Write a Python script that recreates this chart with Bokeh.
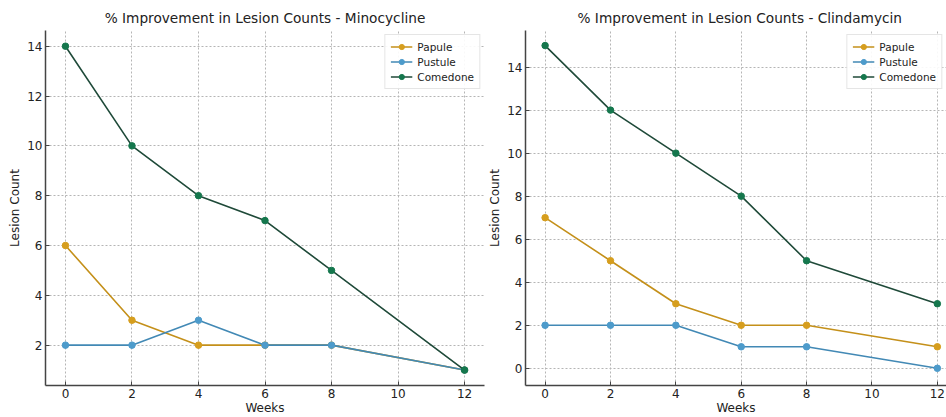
from bokeh.plotting import figure
from bokeh.layouts import row
from bokeh.models import Range1d, Legend, LegendItem, Title
from bokeh.embed import file_html
from bokeh.resources import INLINE

weeks = [0, 2, 4, 6, 8, 12]
mino_papule = [6, 3, 2, 2, 2, 1]
mino_pustule = [2, 2, 3, 2, 2, 1]
mino_comedone = [14, 10, 8, 7, 5, 1]
clinda_papule = [7, 5, 3, 2, 2, 1]
clinda_pustule = [2, 2, 2, 1, 1, 0]
clinda_comedone = [15, 12, 10, 8, 5, 3]
series_names = ["Papule", "Pustule", "Comedone"]
x_ticks = [0, 2, 4, 6, 8, 10, 12]

line_colors = ["#c4901a", "#4289b5", "#1f4a39"]
marker_colors = ["#d69e1e", "#4d9bcb", "#15774d"]
FONT = "DejaVu Sans"


def make_fig(title, data, width, x_end, y_range, y_ticks, bl, br, title_align, title_offset):
    p = figure(width=width, height=417, output_backend="svg", toolbar_location=None,
               x_range=Range1d(-0.6, x_end), y_range=Range1d(*y_range),
               min_border_left=bl, min_border_right=br, min_border_top=30, min_border_bottom=0,
               title=None)
    p.add_layout(Title(text=title, text_font=FONT, text_font_size="13.7px", text_font_style="normal",
                       text_color="#222222", align=title_align, offset=title_offset), "above")
    p.outline_line_color = None
    p.background_fill_color = "white"
    p.border_fill_color = "white"
    for ax in (p.xaxis[0], p.yaxis[0]):
        ax.axis_line_color = "#444444"
        ax.axis_line_width = 1.5
        ax.major_tick_in = 4
        ax.major_tick_out = 0
        ax.major_tick_line_color = "#444444"
        ax.minor_tick_line_color = None
        ax.major_label_text_font = FONT
        ax.major_label_text_font_size = "12px"
        ax.major_label_text_color = "#222222"
        ax.axis_label_text_font = FONT
        ax.axis_label_text_font_size = "12px"
        ax.axis_label_text_font_style = "normal"
        ax.axis_label_text_color = "#222222"
    p.xaxis.axis_label_standoff = 0
    p.xaxis.major_label_standoff = 3
    p.yaxis.axis_label_standoff = 2
    p.yaxis.major_label_standoff = 3
    p.xaxis.ticker = x_ticks
    p.yaxis.ticker = y_ticks
    p.xaxis.axis_label = "Weeks"
    p.yaxis.axis_label = "Lesion Count"
    p.xgrid.ticker = x_ticks
    p.ygrid.ticker = y_ticks
    for g in (p.xgrid[0], p.ygrid[0]):
        g.grid_line_color = "#b5b5b5"
        g.grid_line_dash = "2 2"
        g.grid_line_width = 1

    items = []
    for name, vals, lc, mc in zip(series_names, data, line_colors, marker_colors):
        l = p.line(weeks, vals, line_color=lc, line_width=1.6)
        s = p.scatter(weeks, vals, size=6.5, fill_color=mc, line_color=mc)
        items.append(LegendItem(label=name, renderers=[l, s]))
    leg = Legend(items=items, location="top_right")
    leg.label_text_font = FONT
    leg.label_text_font_size = "10.5px"
    leg.label_text_color = "#222222"
    leg.glyph_width = 22
    leg.glyph_height = 13
    leg.label_height = 13
    leg.spacing = 2
    leg.padding = 5
    leg.margin = 4
    leg.label_standoff = 5
    leg.border_line_color = "#cccccc"
    leg.border_line_width = 1
    leg.background_fill_alpha = 0.9
    p.add_layout(leg)
    return p


p1 = make_fig("% Improvement in Lesion Counts - Minocycline",
              [mino_papule, mino_pustule, mino_comedone],
              485, 12.6, (0.38, 14.63), [2, 4, 6, 8, 10, 12, 14], 45, 1, "center", 0)
p2 = make_fig("% Improvement in Lesion Counts - Clindamycin",
              [clinda_papule, clinda_pustule, clinda_comedone],
              461, 12.28, (-0.8, 15.7), [0, 2, 4, 6, 8, 10, 12, 14], 39, 0, "left", 52)

layout = row(p1, p2)
open("out.html", "w").write(file_html(layout, INLINE))
